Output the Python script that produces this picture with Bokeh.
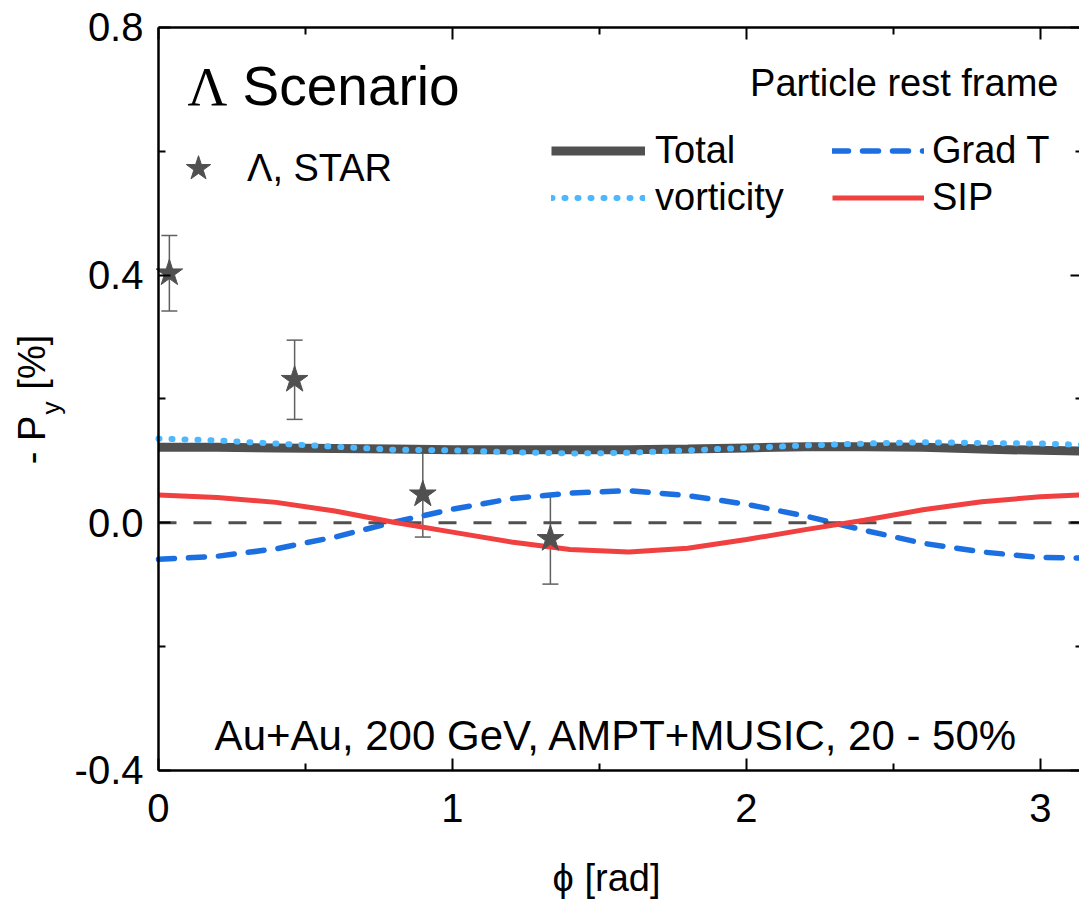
import math
from bokeh.plotting import figure
from bokeh.models import (LinearAxis, FixedTicker, NumeralTickFormatter, ColumnDataSource,
                          Whisker, TeeHead, Legend, LegendItem, Label)
from bokeh.embed import file_html
from bokeh.resources import INLINE

# ---- data ----
phi = [0.0, 0.2, 0.4, 0.6, 0.8, 1.0, 1.2, 1.4, 1.6, 1.8, 2.0, 2.2, 2.4, 2.6, 2.8, 3.0, 3.1416]
total = [0.122, 0.122, 0.121, 0.120, 0.119, 0.118, 0.118, 0.118, 0.118, 0.119, 0.121, 0.123,
         0.123, 0.122, 0.119, 0.117, 0.116]
vorticity = [0.136, 0.133, 0.128, 0.123, 0.118, 0.117, 0.114, 0.112, 0.113, 0.117, 0.121, 0.125,
             0.128, 0.130, 0.129, 0.128, 0.126]
grad_t = [-0.059, -0.054, -0.042, -0.023, 0.001, 0.022, 0.039, 0.048, 0.052, 0.044, 0.030, 0.011,
          -0.012, -0.033, -0.047, -0.056, -0.057]
sip = [0.045, 0.041, 0.033, 0.019, 0.001, -0.015, -0.031, -0.043, -0.047, -0.041, -0.027, -0.011,
       0.004, 0.021, 0.034, 0.042, 0.045]

star_phi = [0.037, 0.463, 0.899, 1.333]
star_py = [0.403, 0.231, 0.046, -0.026]
star_err = [0.061, 0.064, 0.069, 0.073]

x_ticks = [0, 1, 2, 3]
x_minor = [0.5, 1.5, 2.5]
y_ticks = [-0.4, 0.0, 0.4, 0.8]
y_minor = [-0.2, 0.2, 0.6]
X_MIN, X_MAX = 0.0, math.pi
Y_MIN, Y_MAX = -0.4, 0.8

FONT = "Liberation Sans"

# frame covers the whole canvas; axes are placed at fixed data locations
p = figure(width=1079, height=903, x_range=(-0.5374, 3.1327), y_range=(-0.6148, 0.8435),
           output_backend="svg", toolbar_location=None, title=None,
           x_axis_type=None, y_axis_type=None,
           min_border=0, min_border_left=0, min_border_right=0,
           min_border_top=0, min_border_bottom=0)
p.outline_line_color = None
p.background_fill_color = "white"
p.border_fill_color = "white"


def style_axis(ax, labels=True):
    ax.axis_line_width = 2.5
    ax.axis_line_color = "black"
    ax.major_tick_line_width = 2
    ax.minor_tick_line_width = 2
    ax.major_tick_line_color = "black"
    ax.minor_tick_line_color = "black"
    ax.major_tick_in = 12
    ax.major_tick_out = 0
    ax.minor_tick_in = 7
    ax.minor_tick_out = 0
    if labels:
        ax.major_label_text_font = FONT
        ax.major_label_text_font_size = "40px"
        ax.major_label_text_color = "black"
    else:
        ax.major_label_text_color = None
        ax.major_label_standoff = 0


xt = FixedTicker(ticks=x_ticks, minor_ticks=x_minor)
yt = FixedTicker(ticks=y_ticks, minor_ticks=y_minor)

xb = LinearAxis(ticker=xt, fixed_location=Y_MIN, bounds=(X_MIN, X_MAX))
style_axis(xb)
xb.major_label_standoff = 24
p.add_layout(xb, "below")

xtop = LinearAxis(ticker=xt, fixed_location=Y_MAX, bounds=(X_MIN, X_MAX))
style_axis(xtop, labels=False)
p.add_layout(xtop, "above")

yl = LinearAxis(ticker=yt, formatter=NumeralTickFormatter(format="0.0"),
                fixed_location=X_MIN, bounds=(Y_MIN, Y_MAX))
style_axis(yl)
yl.major_label_standoff = 15
p.add_layout(yl, "left")

yr = LinearAxis(ticker=yt, fixed_location=X_MAX, bounds=(Y_MIN, Y_MAX))
style_axis(yr, labels=False)
p.add_layout(yr, "right")

# ---- curves ----
src = ColumnDataSource(dict(phi=phi, total=total, vort=vorticity, gradt=grad_t, sip=sip))
r_grad = p.line("phi", "gradt", source=src, line_color="#1c6fe0", line_width=5.5,
                line_dash="16 14", line_cap="round")
p.line([phi[0], phi[-1]], [0, 0], line_color="#505050", line_width=3, line_dash="18 17")
r_sip = p.line("phi", "sip", source=src, line_color="#f04040", line_width=5)
r_total = p.line("phi", "total", source=src, line_color="#505050", line_width=9)
r_vort = p.line("phi", "vort", source=src, line_color="#4db8ff", line_width=6,
                line_dash="1 12", line_cap="round")

# ---- STAR data ----
ssrc = ColumnDataSource(dict(x=star_phi, y=star_py,
                             lo=[a - b for a, b in zip(star_py, star_err)],
                             hi=[a + b for a, b in zip(star_py, star_err)]))
wh = Whisker(source=ssrc, base="x", lower="lo", upper="hi", dimension="height",
             line_color="#606060", line_width=1.5, level="underlay",
             upper_head=TeeHead(size=16, line_color="#606060", line_width=1.5),
             lower_head=TeeHead(size=16, line_color="#606060", line_width=1.5))
p.add_layout(wh)
r_star = p.scatter("x", "y", source=ssrc, marker="star", size=28,
                   fill_color="#505050", line_color="#505050")

# ---- legends ----
def make_legend(items, loc, gw, gh, standoff, fs="38px"):
    return Legend(items=items, location=loc, padding=0, margin=0, spacing=0,
                  glyph_width=gw, glyph_height=gh, label_height=gh,
                  label_standoff=standoff, border_line_color=None,
                  background_fill_alpha=0, label_text_font=FONT,
                  label_text_font_size=fs, label_text_color="black")

p.add_layout(make_legend([LegendItem(label="Λ, STAR", renderers=[r_star])],
                         (166, 703), 64, 64, 17, "38px"))
p.add_layout(make_legend([LegendItem(label="Total", renderers=[r_total]),
                          LegendItem(label="vorticity", renderers=[r_vort])],
                         (551, 682), 94, 47, 10))
p.add_layout(make_legend([LegendItem(label="Grad T", renderers=[r_grad]),
                          LegendItem(label="SIP", renderers=[r_sip])],
                         (832, 682), 92, 47, 8))

# ---- text annotations ----
def lab(x, y, text, size, font=FONT, align="left", angle=0.0):
    p.add_layout(Label(x=x, y=y, text=text, text_font=font, text_font_size=size,
                       text_align=align, text_baseline="middle", angle=angle,
                       text_color="black"))

lab(0.099, 0.705, "Λ", "55px", font="Liberation Serif")
lab(0.286, 0.705, "Scenario", "55px")
lab(3.061, 0.710, "Particle rest frame", "38px", align="right")
lab(1.558, -0.344, "Au+Au, 200 GeV, AMPT+MUSIC, 20 - 50%", "42px", align="center")
lab(1.524, -0.573, "ϕ [rad]", "38px", align="center")

# rotated y-axis title: "- P_y [%]"
lab(-0.430, 0.173, "- P", "38px", align="right", angle=math.pi / 2)
lab(-0.364, 0.175, "y", "26px", align="left", angle=math.pi / 2)
lab(-0.430, 0.215, "[%]", "38px", align="left", angle=math.pi / 2)

open("out.html", "w").write(file_html(p, INLINE))
